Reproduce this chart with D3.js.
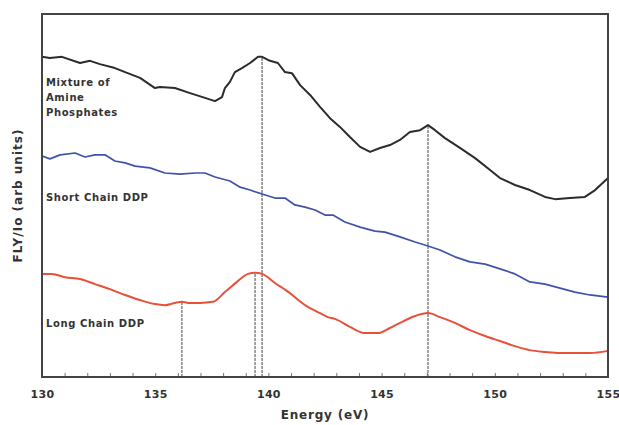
<!DOCTYPE html>
<html>
<head>
<meta charset="utf-8">
<script src="https://cdn.jsdelivr.net/npm/d3@7"></script>
<style>
  html, body { margin: 0; padding: 0; background: #fff; }
  svg { display: block; }
  text { font-family: "DejaVu Sans", Verdana, sans-serif; font-weight: bold; fill: #333; }
</style>
</head>
<body>
<svg id="chart" width="619" height="425"></svg>
<script>
// X-ray absorption near-edge spectra, FLY/Io vs photon energy (arbitrary, offset units)
const xTicks = [130, 135, 140, 145, 150, 155];

const mixtureEnergy = [130.0, 130.35, 130.88, 131.68, 132.12, 132.56, 133.22, 133.67, 134.33, 134.99, 135.21, 135.87, 136.54, 137.2, 137.64, 137.95, 138.08, 138.3, 138.52, 138.83, 139.19, 139.54, 139.72, 140.07, 140.42, 140.73, 141.04, 141.4, 141.84, 142.28, 142.72, 143.16, 143.6, 144.05, 144.49, 144.93, 145.37, 145.81, 146.25, 146.7, 147.05, 147.36, 147.8, 148.46, 149.13, 149.79, 150.23, 150.89, 151.55, 152.22, 152.66, 153.32, 153.98, 154.43, 155.0];
const mixtureSignal = [88.2, 87.9, 88.2, 86.5, 87.1, 86.2, 85.1, 84.0, 82.4, 79.6, 79.9, 79.6, 78.2, 76.9, 76.0, 77.1, 79.6, 81.3, 84.0, 85.1, 86.5, 88.2, 88.2, 87.1, 86.5, 84.0, 83.7, 80.4, 77.7, 74.4, 71.3, 68.9, 66.1, 63.4, 62.0, 63.1, 63.9, 65.3, 67.5, 68.0, 69.4, 68.0, 65.8, 63.1, 60.3, 57.0, 54.8, 52.9, 51.5, 49.6, 49.0, 49.3, 49.6, 51.5, 54.8];

const shortEnergy = [130.0, 130.35, 130.8, 131.46, 131.9, 132.34, 132.78, 133.22, 133.67, 134.11, 134.77, 135.43, 136.1, 136.76, 137.2, 137.64, 138.3, 138.75, 139.19, 139.72, 140.29, 140.73, 141.17, 141.62, 142.06, 142.5, 142.85, 143.38, 144.05, 144.71, 145.15, 145.81, 146.48, 147.05, 147.58, 148.24, 148.9, 149.57, 150.23, 150.89, 151.55, 152.22, 152.88, 153.54, 154.2, 155.0];
const shortSignal = [60.9, 60.1, 61.2, 61.7, 60.6, 61.2, 61.2, 59.5, 59.0, 58.1, 57.6, 56.2, 55.9, 56.2, 56.2, 55.1, 54.0, 52.3, 51.5, 50.4, 49.3, 49.3, 47.4, 46.8, 46.0, 44.6, 44.6, 42.7, 41.3, 40.2, 39.9, 38.6, 37.2, 36.1, 35.0, 33.1, 31.7, 31.1, 29.8, 28.4, 26.2, 25.6, 24.5, 23.4, 22.6, 22.0];

const longEnergy = [130.0, 130.44, 131.02, 131.68, 132.34, 133.0, 133.67, 134.33, 134.99, 135.43, 135.87, 136.18, 136.54, 136.98, 137.55, 138.08, 138.61, 139.1, 139.41, 139.72, 140.29, 140.95, 141.62, 142.28, 142.63, 142.94, 143.6, 144.27, 144.84, 145.37, 145.81, 146.48, 147.05, 147.58, 148.24, 148.9, 149.57, 150.23, 150.89, 151.55, 152.22, 152.88, 153.54, 154.2, 155.0];
const longSignal = [28.4, 28.4, 27.5, 27.0, 25.6, 24.2, 22.6, 21.2, 20.1, 19.8, 20.4, 20.7, 20.4, 20.4, 20.7, 23.4, 26.2, 28.4, 28.7, 28.4, 25.9, 23.1, 19.8, 17.6, 16.5, 16.0, 13.8, 12.1, 12.1, 13.5, 14.9, 16.8, 17.6, 16.5, 14.9, 12.9, 11.3, 9.9, 8.5, 7.4, 6.9, 6.6, 6.6, 6.6, 7.2];

// Feature markers: energy and the height of the spectrum feature they rise to
const markerEnergy = [136.18, 139.41, 139.72, 147.05];
const markerTop = [20.7, 28.7, 88.2, 69.4];

const seriesNames = ["Mixture of|Amine|Phosphates", "Short Chain DDP", "Long Chain DDP"];

const svg = d3.select("#chart");
const margin = { left: 42, right: 11, top: 14, bottom: 48 };
const W = 619, H = 425;

const x = d3.scaleLinear().domain([130, 155]).range([margin.left, W - margin.right]);
const y = d3.scaleLinear().domain([0, 100]).range([H - margin.bottom, margin.top]);

// feature markers
svg.append("g").selectAll("line")
  .data(markerEnergy)
  .join("line")
  .attr("x1", d => x(d)).attr("x2", d => x(d))
  .attr("y1", y(0))
  .attr("y2", (d, i) => y(markerTop[i]))
  .attr("stroke", "#444")
  .attr("stroke-width", 1)
  .attr("stroke-dasharray", "3,1");

const series = [
  { e: mixtureEnergy, v: mixtureSignal, color: "#2b2b2b", w: 2, curve: d3.curveLinear },
  { e: shortEnergy, v: shortSignal, color: "#4052a8", w: 1.7, curve: d3.curveLinear },
  { e: longEnergy, v: longSignal, color: "#e8503a", w: 2, curve: d3.curveMonotoneX }
];
svg.append("g").selectAll("path")
  .data(series)
  .join("path")
  .attr("d", s => d3.line().x(d => x(d[0])).y(d => y(d[1])).curve(s.curve)(d3.zip(s.e, s.v)))
  .attr("fill", "none")
  .attr("stroke", s => s.color)
  .attr("stroke-width", s => s.w)
  .attr("stroke-linejoin", "round");

// bottom axis with inward minor ticks every 1 eV
const axis = d3.axisBottom(x)
  .tickValues(d3.range(130, 156, 1))
  .tickSize(-4)
  .tickFormat(d => xTicks.includes(d) ? d : "");
const ax = svg.append("g")
  .attr("transform", `translate(0,${y(0)})`)
  .call(axis);
ax.select(".domain").remove();
ax.selectAll(".tick line").attr("stroke", "#777").attr("stroke-width", 1);
ax.selectAll(".tick text")
  .attr("y", 13)
  .style("font-family", "'DejaVu Sans', Verdana, sans-serif")
  .style("font-weight", "bold")
  .style("font-size", "11px")
  .style("letter-spacing", "0.3px")
  .attr("fill", "#333");

// plot frame
svg.append("rect")
  .attr("x", x(130)).attr("y", y(100))
  .attr("width", x(155) - x(130)).attr("height", y(0) - y(100))
  .attr("fill", "none")
  .attr("stroke", "#444")
  .attr("stroke-width", 2);

// series labels
const labelY = [[82, 97, 112], [197], [323]];
seriesNames.forEach((name, i) => {
  name.split("|").forEach((part, j) => {
    svg.append("text")
      .attr("x", 46).attr("y", labelY[i][j])
      .attr("dy", "0.35em")
      .style("font-size", "10px")
      .style("letter-spacing", "0.6px")
      .text(part);
  });
});

// axis titles
svg.append("text")
  .attr("x", (x(130) + x(155)) / 2).attr("y", 415)
  .attr("text-anchor", "middle").attr("dy", "0.35em")
  .style("font-size", "12px")
  .style("letter-spacing", "0.8px")
  .text("Energy (eV)");
svg.append("text")
  .attr("transform", `translate(18,${(y(0) + y(100)) / 2}) rotate(-90)`)
  .attr("text-anchor", "middle").attr("dy", "0.35em")
  .style("font-size", "12px")
  .style("letter-spacing", "1px")
  .text("FLY/Io (arb units)");
</script>
</body>
</html>
